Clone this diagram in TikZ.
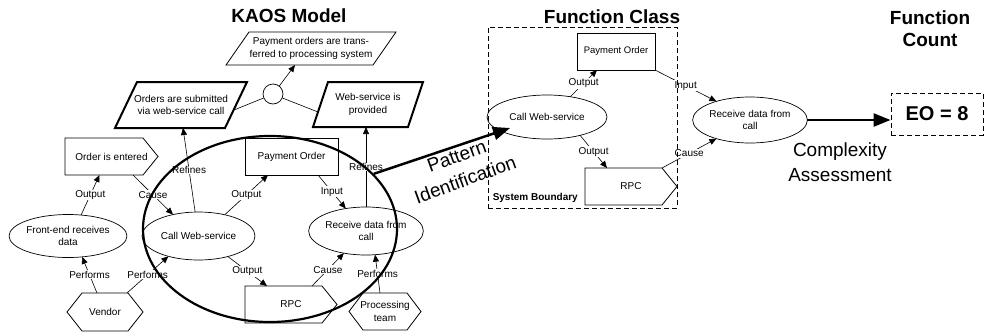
\documentclass[tikz,border=0pt]{standalone}
\usepackage{fontspec}
\setmainfont{Liberation Sans}
\usetikzlibrary{shapes.geometric,arrows.meta,calc}
\begin{document}
\begin{tikzpicture}[x=1pt,y=-1pt,
  plain/.style={font=\fontsize{10}{12.5}\selectfont, align=center, inner sep=0pt, outer sep=0pt},
  ell/.style={plain, ellipse, draw, line width=0.7pt},
  rbox/.style={plain, rectangle, draw, line width=0.7pt},
  thinline/.style={line width=0.6pt},
  outline/.style={line width=0.8pt, line join=miter},
  thickout/.style={line width=2pt, line join=miter},
  conn/.style={line width=0.6pt, -{Triangle[length=7pt,width=6pt]}},
  lbl/.style={font=\fontsize{10}{12}\selectfont, fill=white, inner sep=0.8pt},
  title/.style={font=\fontsize{19}{22}\selectfont\bfseries, align=center},
  bigtext/.style={font=\fontsize{19}{25}\selectfont, align=center},
  bigarrow/.style={line width=2.5pt, -{Triangle[length=17pt,width=13pt]}},
  dashbox/.style={draw, line width=0.9pt, dash pattern=on 5pt off 3pt}
]
\useasboundingbox[fill=white] (0,0) rectangle (987,335);

% titles
\node[title] (t1) at (289,16) {KAOS Model};
\node[title] (t2) at (612,17) {Function Class};
\node[title] (t3) at (930,29) {Function\\Count};

% ---------- KAOS model ----------
\node[plain, minimum width=170pt, minimum height=33pt] (pop) at (311,48.5) {Payment orders are trans-\\ferred to processing system};
\draw[outline] (pop.south west) -- ($(pop.north west)+(23,0)$) -- (pop.north east) -- ($(pop.south east)+(-23,0)$) -- cycle;

\node[plain, minimum width=132pt, minimum height=46pt] (osw) at (181,105) {Orders are submitted\\via web-service call};
\draw[thickout] (osw.south west) -- ($(osw.north west)+(22,0)$) -- (osw.north east) -- ($(osw.south east)+(-22,0)$) -- cycle;

\node[plain, minimum width=110pt, minimum height=45pt] (wsp) at (368,104.5) {Web-service is\\provided};
\draw[thickout] (wsp.south west) -- ($(wsp.north west)+(15,0)$) -- (wsp.north east) -- ($(wsp.south east)+(-15,0)$) -- cycle;

\node[draw, circle, minimum size=20pt, inner sep=0pt, line width=0.7pt] (orc) at (273,94) {};

\node[plain, minimum width=93pt, minimum height=37pt] (oie) at (111.5,156.5) {Order is entered};
\draw[outline] (oie.south west) -- (oie.north west) -- ($(oie.north east)+(-15,0)$) -- (oie.east) -- ($(oie.south east)+(-15,0)$) -- cycle;

\node[rbox, minimum width=93pt, minimum height=37pt] (po) at (291.5,156.5) {Payment Order};

\node[ell, minimum width=114pt, minimum height=43pt] (fe) at (68,236) {Front-end receives\\data};
\node[ell, minimum width=113pt, minimum height=48pt] (cws) at (198.5,236) {Call Web-service};
\node[ell, minimum width=110pt, minimum height=48pt] (rdc) at (366,231) {Receive data from\\call};

\node[plain, minimum width=92pt, minimum height=37pt] (rpc) at (291,304.5) {RPC};
\draw[outline] (rpc.south west) -- (rpc.north west) -- ($(rpc.north east)+(-15,0)$) -- (rpc.east) -- ($(rpc.south east)+(-15,0)$) -- cycle;

\node[plain, minimum width=76pt, minimum height=38pt] (vendor) at (105,312) {Vendor};
\draw[outline] (vendor.west) -- ($(vendor.north west)+(15,0)$) -- ($(vendor.north east)+(-15,0)$) -- (vendor.east) -- ($(vendor.south east)+(-15,0)$) -- ($(vendor.south west)+(15,0)$) -- cycle;

\node[plain, minimum width=72pt, minimum height=37pt] (pt) at (385,311.5) {Processing\\team};
\draw[outline] (pt.west) -- ($(pt.north west)+(14,0)$) -- ($(pt.north east)+(-14,0)$) -- (pt.east) -- ($(pt.south east)+(-14,0)$) -- ($(pt.south west)+(14,0)$) -- cycle;

% KAOS connectors
\draw[thinline] (orc.-157) -- ($(osw.east)+(-13,5)$);
\draw[thinline] (orc.-23) -- ($(wsp.west)+(5,7.5)$);
\draw[conn] (orc.52) -- ($(pop.south)+(-16,0)$);
\draw[conn] (fe.58) -- node[lbl]{Output} ($(oie.south)+(-12,0)$);
\draw[conn] ($(vendor.north)+(-8,0)$) -- node[lbl]{Performs} (fe.-56);
\draw[conn] ($(vendor.north east)+(-16,0)$) -- node[lbl]{Performs} (cws.-146);
\draw[conn] ($(oie.south)+(21.5,0)$) -- node[lbl]{Cause} (cws.140);
\draw[conn] (cws.98) -- node[lbl]{Refines} ($(osw.south)+(2,0)$);
\draw[conn] (cws.39) -- node[lbl]{Output} ($(po.south)+(-23.5,0)$);
\draw[conn] (cws.-35) -- node[lbl]{Output} ($(rpc.north)+(-24,0)$);
\draw[conn] ($(po.south)+(26.5,0)$) -- node[lbl]{Input} (rdc.132);
\draw[conn] ($(rpc.north)+(21,0)$) -- node[lbl]{Cause} (rdc.-135);
\draw[conn] ($(pt.north)+(-5,0)$) -- node[lbl]{Performs} (rdc.-69);
\draw[conn] (rdc.north) -- node[lbl]{Refines} (rdc.north |- wsp.south);

% big KAOS ellipse
\node[draw, ellipse, line width=2.2pt, minimum width=254pt, minimum height=186pt, inner sep=0pt] (kaos) at (270,229) {};

% ---------- Function class ----------
\node[rbox, minimum width=78pt, minimum height=37pt, font=\fontsize{9.5}{12}\selectfont] (fpo) at (616,51.5) {Payment Order};
\node[ell, minimum width=120pt, minimum height=44pt] (fcws) at (547,117) {Call Web-service};
\node[plain, minimum width=92pt, minimum height=37pt] (frpc) at (631,186.5) {RPC};
\draw[outline] (frpc.south west) -- (frpc.north west) -- ($(frpc.north east)+(-15,0)$) -- (frpc.east) -- ($(frpc.south east)+(-15,0)$) -- cycle;
\node[ell, minimum width=110pt, minimum height=46pt] (frdc) at (750,120) {Receive data from\\call};

\draw[conn] (fcws.41) -- node[lbl]{Output} ($(fpo.south)+(-19,0)$);
\draw[conn] (fcws.-29) -- node[lbl]{Output} ($(frpc.north)+(-24,0)$);
\draw[conn] (fpo.south east) -- node[lbl]{Input} (frdc.151);
\draw[conn] ($(frpc.north east)+(-15,0)$) -- node[lbl]{Cause} (frdc.-151);

\node[dashbox, minimum width=189pt, minimum height=181pt, inner sep=0pt] (sb) at (582.5,117.5) {};
\node[font=\fontsize{10}{12}\selectfont\bfseries, anchor=west, inner sep=0pt] (sbl) at ($(sb.south west)+(5,-11)$) {System Boundary};

% pattern identification
\draw[bigarrow] (kaos.28) -- ($(fcws.center)+(-37,11)$);
\node[bigtext, rotate=20] (pi) at (461,168) {Pattern\\Identification};

% ---------- Function count ----------
\node[dashbox, minimum width=92pt, minimum height=42pt, inner sep=0pt, font=\fontsize{20}{24}\selectfont\bfseries] (eo) at (937,114) {EO = 8};
\draw[bigarrow] (frdc.east) -- (frdc.east -| eo.west);
\node[bigtext] (ca) at (840,162) {Complexity\\Assessment};
\end{tikzpicture}
\end{document}
